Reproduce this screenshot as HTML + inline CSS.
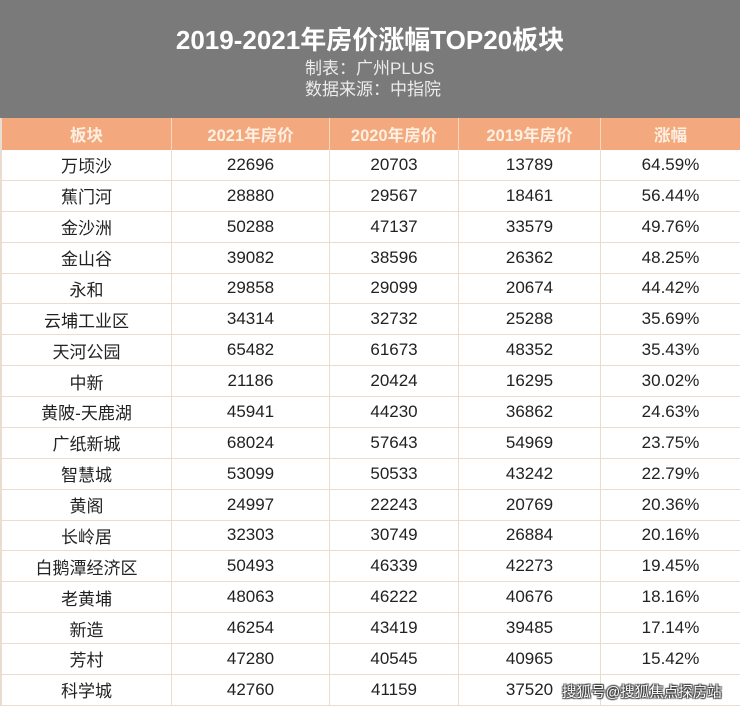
<!DOCTYPE html>
<html><head><meta charset="utf-8">
<style>
html,body{margin:0;padding:0;}
body{width:740px;height:708px;position:relative;overflow:hidden;background:#fff;font-family:"Liberation Sans","Noto Sans CJK SC",sans-serif;}
.hdr{position:absolute;left:0;top:0;width:740px;height:118px;background:#7a7a7a;}
.title{position:absolute;left:0;width:740px;top:24px;text-align:center;color:#fff;font-weight:bold;font-size:26px;line-height:32px;}
.sub{position:absolute;left:305px;color:#ececec;font-size:17px;line-height:20px;}
.t{position:absolute;left:0;top:118px;width:739px;display:grid;grid-template-columns:170px 158px 129px 142px 140px;grid-template-rows:32px repeat(18,30.89px);border-left:2px solid #e9ddd0;box-sizing:border-box;}
.t div{display:flex;align-items:center;justify-content:center;font-size:17px;color:#222;border-right:1px solid #ecdccb;border-bottom:1px solid #ecdccb;box-sizing:border-box;}
.t div.h{background:#f3a97d;color:#fdf0e2;font-weight:bold;font-size:16.5px;border-right:1px solid #f8d6bf;border-bottom:none;}
.wm{position:absolute;left:562px;top:683px;font-size:14.5px;color:#fff;line-height:20px;text-shadow:0 0 1px #333,1px 1px 1px #444,-1px -1px 1px #444,1px -1px 1px #444,-1px 1px 1px #444;}
</style></head><body>
<div class="hdr">
<div class="title">2019-2021年房价涨幅TOP20板块</div>
<div class="sub" style="top:59px">制表：广州PLUS</div>
<div class="sub" style="top:80px">数据来源：中指院</div>
</div>
<div class="t">
<div class="h">板块</div><div class="h">2021年房价</div><div class="h">2020年房价</div><div class="h">2019年房价</div><div class="h">涨幅</div>
<div>万顷沙</div><div>22696</div><div>20703</div><div>13789</div><div>64.59%</div>
<div>蕉门河</div><div>28880</div><div>29567</div><div>18461</div><div>56.44%</div>
<div>金沙洲</div><div>50288</div><div>47137</div><div>33579</div><div>49.76%</div>
<div>金山谷</div><div>39082</div><div>38596</div><div>26362</div><div>48.25%</div>
<div>永和</div><div>29858</div><div>29099</div><div>20674</div><div>44.42%</div>
<div>云埔工业区</div><div>34314</div><div>32732</div><div>25288</div><div>35.69%</div>
<div>天河公园</div><div>65482</div><div>61673</div><div>48352</div><div>35.43%</div>
<div>中新</div><div>21186</div><div>20424</div><div>16295</div><div>30.02%</div>
<div>黄陂-天鹿湖</div><div>45941</div><div>44230</div><div>36862</div><div>24.63%</div>
<div>广纸新城</div><div>68024</div><div>57643</div><div>54969</div><div>23.75%</div>
<div>智慧城</div><div>53099</div><div>50533</div><div>43242</div><div>22.79%</div>
<div>黄阁</div><div>24997</div><div>22243</div><div>20769</div><div>20.36%</div>
<div>长岭居</div><div>32303</div><div>30749</div><div>26884</div><div>20.16%</div>
<div>白鹅潭经济区</div><div>50493</div><div>46339</div><div>42273</div><div>19.45%</div>
<div>老黄埔</div><div>48063</div><div>46222</div><div>40676</div><div>18.16%</div>
<div>新造</div><div>46254</div><div>43419</div><div>39485</div><div>17.14%</div>
<div>芳村</div><div>47280</div><div>40545</div><div>40965</div><div>15.42%</div>
<div>科学城</div><div>42760</div><div>41159</div><div>37520</div><div></div>
</div>
<div class="wm">搜狐号@搜狐焦点探房站</div>
</body></html>
